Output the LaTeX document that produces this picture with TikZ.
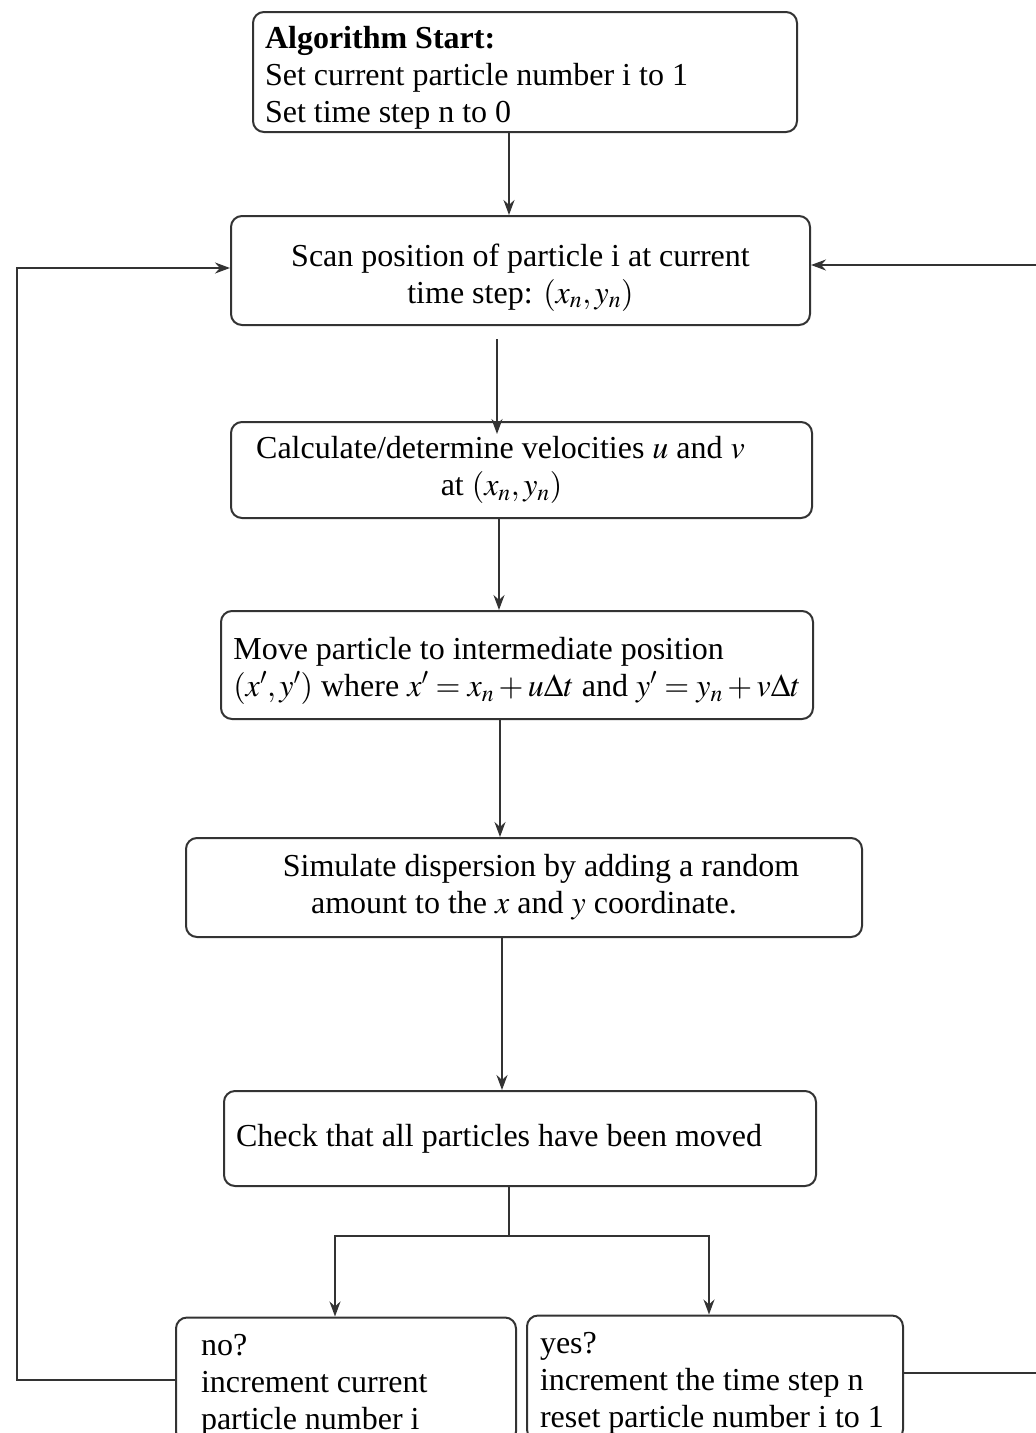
\documentclass[tikz,border=0pt]{standalone}
\usepackage{mathptmx}
\usepackage[no-math]{fontspec}
\setmainfont{Liberation Serif}
\usetikzlibrary{arrows.meta}

\tikzset{every picture/.style={line width=2pt}}
\tikzset{
  box/.style={draw=black!80, rounded corners=11pt, inner xsep=12pt, inner ysep=4pt,
    font=\fontsize{32}{37}\selectfont},
  arr/.style={draw=black!80, -{Stealth[length=15pt,width=11pt]}},
  wire/.style={draw=black!80}
}

\begin{document}
\begin{tikzpicture}[x=1pt,y=1pt,yscale=-1,xscale=1]
\useasboundingbox (0,0) rectangle (1036,1433);
\clip (0,0) rectangle (1036,1433);

%Shape: Rounded Rect [id:start]
\node [box, minimum width=544pt, minimum height=120pt, inner ysep=0pt, text width=520pt, align=flush left] (start) at (525,72)
  {\rule{0pt}{34pt}\textbf{Algorithm Start:}\\Set current particle number i to 1\\Set time step n to 0};
%Shape: Rounded Rect [id:scan]
\node [box, minimum width=579pt, minimum height=109pt, align=center] (scan) at (520.5,270.5)
  {\rule{0pt}{36pt}Scan position of particle i at current\\time step: $(x_n,y_n)$};
%Shape: Rounded Rect [id:calc]
\node [box, minimum width=581pt, minimum height=96pt, align=center] (calc) at (521.5,470)
  {Calculate/determine velocities $u$ and $v$\hspace*{42pt}\\at $(x_n,y_n)$\hspace*{40pt}};
%Shape: Rounded Rect [id:move]
\node [box, minimum width=592pt, minimum height=108pt, align=flush left] (move) at (517,665)
  {\rule{0pt}{34pt}Move particle to intermediate position\\$(x',y')$ where $x'=x_n+u\Delta t$ and $y'=y_n+v\Delta t$};
%Shape: Rounded Rect [id:sim]
\node [box, minimum width=676pt, minimum height=99pt, align=center] (sim) at (524,887.5)
  {\hspace*{34pt}Simulate dispersion by adding a random\\amount to the $x$ and $y$ coordinate.};
%Shape: Rounded Rect [id:check]
\node [box, minimum width=592pt, minimum height=95pt, text width=568pt, align=flush left] (check) at (520,1138.5)
  {Check that all particles have been moved};
%Shape: Rounded Rect [id:no]
\node [box, minimum width=340pt, minimum height=125pt, inner xsep=25pt, inner ysep=0pt, text width=290pt, align=flush left] (no) at (346,1380)
  {\rule{0pt}{32pt}no?\\increment current\\particle number i};
%Shape: Rounded Rect [id:yes]
\node [box, minimum width=376pt, minimum height=125pt, inner xsep=13pt, inner ysep=0pt, text width=350pt, align=flush left] (yes) at (715,1378)
  {\rule{0pt}{32pt}yes?\\increment the time step n\\reset particle number i to 1};

%Straight Lines
\draw [arr] ([xshift=-16pt]start.south) -- ([xshift=-16pt]start.south |- scan.north);
\draw [arr] ([xshift=-23.5pt,yshift=13pt]scan.south) -- ([xshift=-23.5pt,yshift=13pt]scan.south |- calc.north);
\draw [arr] ([xshift=-22.5pt]calc.south) -- ([xshift=-22.5pt]calc.south |- move.north);
\draw [arr] ([xshift=-17pt]move.south) -- ([xshift=-17pt]move.south |- sim.north);
\draw [arr] ([xshift=-22pt]sim.south) -- ([xshift=-22pt]sim.south |- check.north);
\draw [wire] ([xshift=-11pt]check.south) -- ++(0,49) coordinate (split);
\draw [arr] (split) -| ([xshift=-11pt]no.north);
\draw [arr] (split) -| ([xshift=-6pt]yes.north);
%Feedback Lines
\draw [arr] (no.west) -- ++(-158,0) |- ([yshift=-2.5pt]scan.west);
\draw [arr] ([yshift=-5pt]yes.east) -- ++(150,0) |- ([yshift=-5.5pt]scan.east);

\end{tikzpicture}
\end{document}
